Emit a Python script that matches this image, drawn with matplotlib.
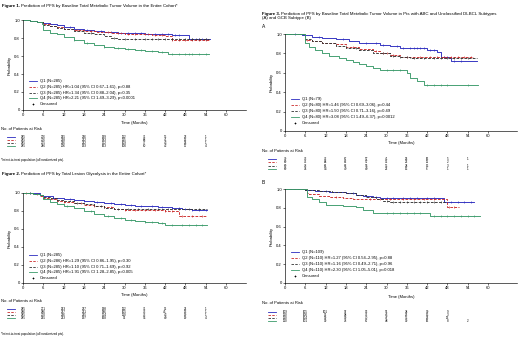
import matplotlib
matplotlib.use("Agg")
import matplotlib.pyplot as plt
import numpy as np

plt.rcParams['font.family'] = ['Liberation Sans', 'DejaVu Sans']

W, H = 520, 337
# ---------------- data ----------------
months = [0, 6, 12, 18, 24, 30, 36, 42, 48, 54, 60]
risk_times = [0, 6, 12, 18, 24, 30, 36, 42, 48, 54]
colors = ['#2b2bbf', '#cc2a2a', '#333333', '#3a9a6a']
styles = ['-', (0, (3, 1.5)), (0, (3, 1.5)), '-']

# Figure 1
f1_t = [[0, 2, 4, 6, 8, 10, 12, 15, 18, 21, 24, 28, 32, 36, 40, 44, 47, 49, 55.3],
        [0, 2, 4, 6, 8, 10, 12, 15, 18, 22, 26, 30, 34, 38, 42, 44, 55],
        [0, 2, 4, 6, 8, 10, 12, 15, 18, 21, 24, 26, 28, 55],
        [0, 2, 4, 5.5, 6, 8, 10, 12, 15, 18, 21, 24, 27, 30, 33, 36, 40, 43, 55]]
f1_s = [[1, .99, .98, .97, .955, .94, .925, .905, .89, .88, .87, .86, .855, .85, .845, .835, .83, .785, .785],
        [1, .99, .975, .955, .935, .92, .905, .89, .88, .87, .86, .85, .84, .83, .82, .78, .78],
        [1, .99, .975, .95, .93, .91, .895, .88, .86, .84, .82, .80, .79, .79],
        [1, .99, .975, .96, .89, .86, .84, .815, .78, .75, .725, .705, .69, .675, .665, .655, .645, .625, .625]]
f1_c = [[14, 19, 23, 26, 29, 31, 33, 35, 37, 39, 41, 43, 45, 46, 50, 51, 52, 53, 54],
        [16, 20, 25, 28, 31, 33, 36, 39, 41, 44, 46, 48, 50, 52, 54],
        [20, 27, 30, 33, 36, 38, 40, 42, 44, 46, 48, 50, 52, 54],
        [15, 19, 24, 28, 31, 35, 38, 41, 44, 46, 48, 49, 50, 52, 54]]
f1_risk = [[285, 276, 255, 236, 199, 112, 71, 35, 23, 1],
           [285, 276, 228, 222, 183, 115, 68, 41, 12, 1],
           [285, 275, 226, 212, 172, 109, 77, 43, 25, 1],
           [285, 246, 206, 193, 163, 100, 60, 42, 17, 4]]
f1_leg = ["Q1 (N=285)",
          "Q2 (N=285) HR=1.04 (95% CI 0.67\u20131.61), p=0.88",
          "Q3 (N=285) HR=1.34 (95% CI 0.88\u20132.04), p=0.35",
          "Q4 (N=285) HR=2.21 (95% CI 1.49\u20133.29), p<0.0001"]

# Figure 2
f2_t = [[0, 3, 5, 6, 9, 12, 15, 18, 21, 24, 27, 30, 33, 36, 40, 44, 47, 50, 54.3],
        [0, 3, 5, 6, 8, 10, 12, 15, 18, 21, 24, 27, 30, 36, 42, 45, 46, 54.3],
        [0, 3, 5, 6, 8, 10, 12, 15, 18, 21, 24, 27, 54.3],
        [0, 3, 5, 6, 8, 10, 12, 15, 18, 21, 24, 27, 30, 33, 36, 40, 42, 54.3]]
f2_s = [[1, .995, .98, .965, .95, .935, .92, .91, .895, .885, .875, .865, .86, .855, .845, .835, .825, .815, .815],
        [1, .99, .97, .95, .93, .915, .90, .885, .87, .855, .84, .825, .815, .81, .805, .80, .745, .745],
        [1, .99, .975, .96, .94, .925, .91, .89, .875, .855, .835, .82, .82],
        [1, .99, .975, .93, .90, .88, .86, .83, .80, .77, .745, .72, .705, .69, .675, .665, .65, .65]]
f2_c = [[2, 5, 9, 14, 18, 22, 26, 29, 32, 35, 38, 41, 44, 46, 48, 50, 52, 54],
        [1, 4, 12, 17, 21, 26, 30, 33, 36, 39, 42, 44, 47, 50, 53],
        [2, 10, 16, 23, 28, 31, 34, 37, 40, 43, 46, 49, 52],
        [13, 20, 25, 29, 32, 36, 38, 41, 44, 47, 49, 51, 53]]
f2_risk = [[285, 271, 253, 237, 198, 112, 71, 36, 21, 1],
           [286, 286, 237, 221, 186, 105, 73, 45, 13, 1],
           [285, 270, 226, 215, 174, 110, 73, 43, 19, 1],
           [285, 255, 213, 197, 168, 96, 56, 40, 19, 4]]
f2_leg = ["Q1 (N=285)",
          "Q2 (N=286) HR=1.29 (95% CI 0.86\u20131.95), p=0.30",
          "Q3 (N=285) HR=1.10 (95% CI 0.71\u20131.69), p=0.92",
          "Q4 (N=285) HR=1.91 (95% CI 1.28\u20132.85), p=0.005"]

# Figure 3A
f3a_t = [[0, 5, 8, 11, 15, 19, 22, 28, 31, 34, 42, 45, 46, 49, 56.7],
         [0, 6, 8, 11, 15, 18, 22, 26, 28, 31, 34, 55.7],
         [0, 6, 8, 11, 15, 18, 22, 26, 31, 34, 37, 56.7],
         [0, 6, 7, 9, 11, 13, 16, 18, 20, 22, 24, 26, 28, 36, 37, 39, 41, 57]]
f3a_s = [[1, .985, .97, .96, .945, .925, .905, .89, .875, .86, .84, .815, .765, .725, .725],
         [1, .94, .925, .91, .895, .87, .85, .82, .80, .78, .76, .755],
         [1, .95, .93, .905, .88, .86, .835, .80, .775, .76, .75, .75],
         [1, .91, .87, .83, .80, .775, .755, .735, .71, .69, .67, .65, .625, .60, .55, .52, .47, .47]]
f3a_c = [[3, 10, 17, 24, 27, 29, 33, 35, 37, 38, 39, 40, 41, 43, 44, 47, 48, 50, 52],
         [6.5, 20, 27, 29, 30, 32, 36, 40, 43, 45, 47, 49, 51, 53, 55],
         [21, 29, 32, 34, 36, 38, 41, 44, 46, 48, 50, 52, 54],
         [30, 32, 34, 42, 44, 46, 48, 54]]
f3a_risk = [[79, 73, 72, 67, 57, 41, 25, 16, 5, 1],
            [80, 76, 64, 62, 57, 36, 22, 11, 2, None],
            [80, 78, 66, 63, 55, 35, 24, 15, 3, 1],
            [80, 74, 54, 49, 40, 22, 15, 6, 1, 1]]
f3a_leg = ["Q1 (N=79)",
           "Q2 (N=80) HR=1.46 (95% CI 0.69\u20133.06), p=0.44",
           "Q3 (N=80) HR=1.50 (95% CI 0.71\u20133.16), p=0.49",
           "Q4 (N=80) HR=3.08 (95% CI 1.49\u20136.37), p=0.0012"]

# Figure 3B
f3b_t = [[0, 6, 9, 13, 18, 21, 23, 26, 28, 46, 47, 56],
         [0, 6.4, 7, 10, 13, 17, 20, 23, 47, 48, 51.3],
         [0, 6, 10, 14, 18, 21, 24, 27, 29, 31, 48],
         [0, 6.4, 8, 10, 12, 17, 21, 23, 26, 28, 43, 57.5]]
f3b_s = [[1, .99, .98, .97, .955, .94, .925, .91, .90, .90, .865, .865],
         [1, .96, .945, .93, .92, .905, .895, .89, .89, .81, .81],
         [1, .99, .98, .97, .955, .94, .915, .89, .875, .865, .865],
         [1, .92, .89, .86, .83, .82, .81, .78, .75, .74, .71, .71]]
f3b_c = [[12, 20, 24, 27, 30, 32, 35, 37, 39, 42, 44, 49, 51, 53, 55],
         [15, 25, 28, 31, 35, 38, 41, 44, 48.5, 50],
         [30, 32, 34, 36, 38, 40, 42, 44, 46],
         [30, 32, 34, 36, 38, 40, 44, 46, 48, 50, 52, 54, 56]]
f3b_risk = [[109, 105, 101, 97, 93, 51, 34, 30, 9, None],
            [110, 100, 96, 94, 76, 46, 26, 15, 3, None],
            [110, 104, 99, 90, 70, 47, 35, 26, 13, None],
            [110, 101, 90, 78, 67, 48, 30, 16, 8, 2]]
f3b_leg = ["Q1 (N=109)",
           "Q2 (N=110) HR=1.27 (95% CI 0.54\u20132.95), p=0.88",
           "Q3 (N=110) HR=1.16 (95% CI 0.49\u20132.71), p=0.96",
           "Q4 (N=110) HR=2.30 (95% CI 1.05\u20135.01), p=0.018"]

# ---------------- drawing ----------------
fig = plt.figure(figsize=(W / 100, H / 100), dpi=100)
fig.patch.set_facecolor('white')
renderer = fig.canvas.get_renderer()

PXM = 20.3 / 6.0   # pixels per month


def fx(px):
    return px / W


def fy(py):
    return 1 - py / H


FS_T = 3.2
FS_TICK = 3.0
FS_LEG = 3.0
FS_RISK = 2.2


def surv_at(t, s, c):
    i = np.searchsorted(t, c, side='right') - 1
    return s[max(i, 0)]


def title(px, py, bold, rest):
    t1 = fig.text(fx(px), fy(py), bold, fontsize=FS_T, fontweight='bold', va='center', ha='left')
    bb = t1.get_window_extent(renderer)
    fig.text(fx(px + bb.width + 1.2), fy(py), rest, fontsize=FS_T, va='center', ha='left')


def panel(x0, xmax, y_top, y_bot, ts, ss, cs, leg, leg_y, leg_dy, risk, risk_y0, risk_dy,
          label_y, nopat_y, nopat_x):
    x1 = x0 + xmax * PXM
    ax = fig.add_axes([fx(x0), fy(y_bot), fx(x1) - fx(x0), fy(y_top) - fy(y_bot)])
    for k in range(4):
        ax.plot(ts[k], ss[k], drawstyle='steps-post', color=colors[k], lw=0.65,
                linestyle=styles[k], clip_on=False)
        cy = [surv_at(ts[k], ss[k], c) for c in cs[k]]
        ax.plot(cs[k], cy, linestyle='none', marker='|', ms=1.6, mew=0.45,
                color=colors[k], clip_on=False)
    ax.set_xlim(0, xmax)
    ax.set_ylim(0, 1.0)
    ax.set_xticks(months)
    ax.set_yticks([0, 0.2, 0.4, 0.6, 0.8, 1.0])
    ax.set_yticklabels(['0', '0.2', '0.4', '0.6', '0.8', '1.0'])
    ax.tick_params(labelsize=FS_TICK, length=1.2, width=0.4, pad=1)
    for sp in ['top', 'right']:
        ax.spines[sp].set_visible(False)
    for sp in ['left', 'bottom']:
        ax.spines[sp].set_linewidth(0.45)
    ax.set_ylabel('Probability', fontsize=FS_TICK, labelpad=2)
    fig.text(fx((x0 + x1) / 2), fy(label_y), 'Time (Months)', fontsize=FS_TICK,
             ha='center', va='center')
    # legend
    lx = x0 + 6
    for k in range(4):
        yy = fy(leg_y + k * leg_dy)
        fig.add_artist(plt.Line2D([fx(lx), fx(lx + 8)], [yy, yy], color=colors[k], lw=0.6,
                                  linestyle=styles[k]))
        fig.text(fx(lx + 11), yy, leg[k], fontsize=FS_LEG, va='center', ha='left')
    yy = fy(leg_y + 4 * leg_dy)
    fig.add_artist(plt.Line2D([fx(lx + 4)], [yy], marker='+', ms=1.8, mew=0.5,
                              color='black', linestyle='none'))
    fig.text(fx(lx + 11), yy, 'Censored', fontsize=FS_LEG, va='center', ha='left')
    # risk table
    fig.text(fx(nopat_x), fy(nopat_y), 'No. of Patients at Risk', fontsize=FS_TICK,
             va='center', ha='left')
    for k in range(4):
        yy = risk_y0 + k * risk_dy
        fig.add_artist(plt.Line2D([fx(nopat_x + 6), fx(nopat_x + 14)], [fy(yy), fy(yy)],
                                  color=colors[k], lw=0.6, linestyle=styles[k]))
        for t, v in zip(risk_times, risk[k]):
            if v is None:
                continue
            fig.text(fx(x0 + t * PXM), fy(yy), str(v), fontsize=FS_RISK, ha='center', va='center')
    return ax


# Figure 1
title(2, 5.5, 'Figure 1.', 'Prediction of PFS by Baseline Total Metabolic Tumor Volume in the Entire Cohort*')
panel(23, 66, 20, 110, f1_t, f1_s, f1_c, f1_leg, 81, 5.8, f1_risk, 137.3, 2.8,
      123, 129, 1)
fig.text(fx(1), fy(160), '*Intent-to-treat population (all randomized pts).', fontsize=2.2,
         va='center', ha='left')

# Figure 2
title(2, 174.5, 'Figure 2.', 'Prediction of PFS by Total Lesion Glycolysis in the Entire Cohort*')
panel(23, 66, 193, 283, f2_t, f2_s, f2_c, f2_leg, 255, 5.8, f2_risk, 309.3, 2.8,
      295, 301, 1)
fig.text(fx(1), fy(334), '*Intent-to-treat population (all randomized pts).', fontsize=2.2,
         va='center', ha='left')

# Figure 3
title(262, 14, 'Figure 3.', 'Prediction of PFS by Baseline Total Metabolic Tumor Volume in Pts with ABC and Unclassified DLBCL Subtypes')
fig.text(fx(262), fy(18.3), '(A) and GCB Subtype (B)', fontsize=FS_T, va='center', ha='left')
fig.text(fx(262), fy(27), 'A', fontsize=FS_T + 0.3, va='center', ha='left')
panel(285, 68.5, 34, 131, f3a_t, f3a_s, f3a_c, f3a_leg, 99, 6.0, f3a_risk, 159, 3.3,
      143, 151, 262)
fig.text(fx(262), fy(183), 'B', fontsize=FS_T + 0.3, va='center', ha='left')
panel(285, 68.5, 189, 283, f3b_t, f3b_s, f3b_c, f3b_leg, 252, 6.0, f3b_risk, 311.7, 3.1,
      297, 303, 262)

fig.savefig('out.png', dpi=100, facecolor='white')
